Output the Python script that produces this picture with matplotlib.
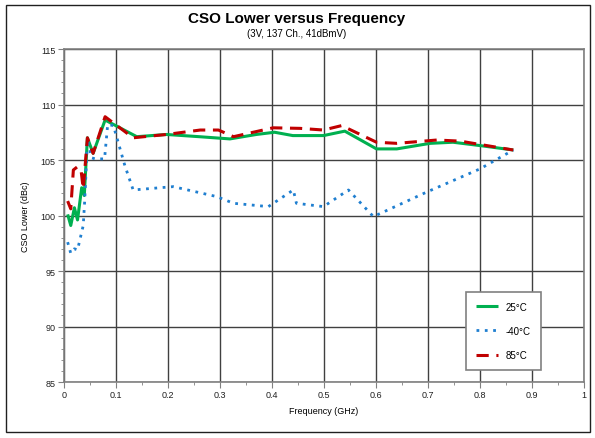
import matplotlib
matplotlib.use("Agg")
import matplotlib.pyplot as plt
from matplotlib.patches import Rectangle
from matplotlib.ticker import MultipleLocator

plt.rcParams['font.family'] = ['Liberation Sans', 'DejaVu Sans']

# 25°C
f_25 = [0.007, 0.013, 0.020, 0.026, 0.034, 0.039, 0.045, 0.056, 0.079, 0.14,
        0.197, 0.26, 0.319, 0.37, 0.405, 0.44, 0.499, 0.54, 0.601, 0.64,
        0.704, 0.748, 0.80, 0.864]
cso_25 = [100.1, 99.1, 100.7, 99.6, 102.5, 101.8, 107.0, 105.6, 108.6, 107.1,
          107.3, 107.1, 106.9, 107.3, 107.5, 107.2, 107.2, 107.6, 106.0, 106.0,
          106.5, 106.6, 106.3, 105.9]

# -40°C
f_m40 = [0.007, 0.013, 0.020, 0.026, 0.031, 0.037, 0.040, 0.045, 0.053, 0.060,
         0.078, 0.084, 0.095, 0.117, 0.133, 0.21, 0.294, 0.326, 0.393, 0.441,
         0.447, 0.499, 0.547, 0.595, 0.697, 0.80, 0.864]
cso_m40 = [97.6, 96.6, 97.0, 96.9, 97.9, 99.1, 101.5, 106.8, 105.2, 105.1,
           105.1, 108.2, 108.1, 104.5, 102.3, 102.6, 101.7, 101.1, 100.8, 102.3,
           101.1, 100.8, 102.3, 99.9, 102.1, 104.2, 105.9]

# 85°C
f_85 = [0.007, 0.013, 0.018, 0.026, 0.033, 0.037, 0.045, 0.056, 0.079, 0.133,
        0.197, 0.262, 0.297, 0.326, 0.402, 0.454, 0.499, 0.534, 0.601, 0.64,
        0.717, 0.762, 0.80, 0.864]
cso_85 = [101.3, 100.6, 104.1, 104.4, 104.0, 102.4, 107.0, 105.6, 108.9, 107.0,
          107.3, 107.7, 107.7, 107.1, 107.9, 107.85, 107.7, 108.1, 106.6, 106.5,
          106.8, 106.7, 106.4, 105.9]

fig = plt.figure(figsize=(5.95, 4.39), dpi=100)
ax = fig.add_axes([64 / 595, 56 / 439, 520 / 595, 333 / 439])

# outer frame
fig.patches.append(Rectangle((6 / 595, 6 / 439), 584 / 595, 427 / 439,
                             transform=fig.transFigure, fill=False,
                             edgecolor='#202020', linewidth=1.0))

ax.plot(f_25, cso_25, color='#00B050', linewidth=2.2, label='25°C',
        solid_capstyle='butt')
ax.plot(f_m40, cso_m40, color='#1F7FD0', linewidth=2.0, linestyle=(0, (1, 2)),
        label='-40°C')
ax.plot(f_85, cso_85, color='#C00000', linewidth=2.2, linestyle=(0, (4, 2.5)),
        label='85°C')

ax.set_xlim(0, 1)
ax.set_ylim(85, 115)
ax.xaxis.set_major_locator(MultipleLocator(0.1))
ax.xaxis.set_minor_locator(MultipleLocator(0.05))
ax.yaxis.set_major_locator(MultipleLocator(5))
ax.yaxis.set_minor_locator(MultipleLocator(1))
ax.set_xticklabels([f"{v:g}" for v in ax.get_xticks()])
ax.grid(True, which='major', color='#404040', linewidth=1.0)
ax.set_axisbelow(True)
for s in ax.spines.values():
    s.set_color('#808080')
    s.set_linewidth(1.2)
ax.tick_params(which='major', direction='out', length=4, color='#808080',
               labelsize=6.5, labelcolor='#202020', pad=2)
ax.tick_params(which='minor', direction='out', length=2, color='#808080')

ax.set_xlabel('Frequency (GHz)', fontsize=6.5, labelpad=5)
ax.set_ylabel('CSO Lower (dBc)', fontsize=6.5, labelpad=8)

fig.text(297 / 595, 1 - 19 / 439, 'CSO Lower versus Frequency', ha='center',
         va='center', fontsize=11, fontweight='bold')
fig.text(297 / 595, 1 - 34 / 439, '(3V, 137 Ch., 41dBmV)', ha='center',
         va='center', fontsize=7)

leg = ax.legend(loc='upper left',
                bbox_to_anchor=((466 - 64) / 520, (383 - 293) / 333),
                fontsize=7, frameon=True, fancybox=False, handlelength=2.3,
                labelspacing=1.45, borderpad=1.0, handletextpad=0.8,
                borderaxespad=0)
leg.get_frame().set_edgecolor('#808080')
leg.get_frame().set_linewidth(1.2)
leg.get_frame().set_alpha(1)

fig.savefig('out.png', dpi=100)
